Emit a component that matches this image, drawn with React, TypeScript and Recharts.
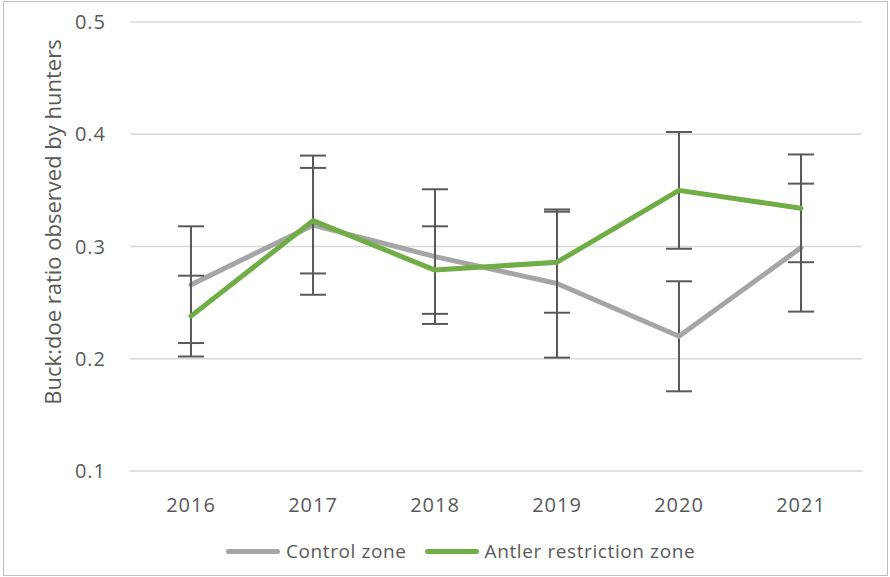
import React from 'react'
import { LineChart, Line, XAxis, YAxis, CartesianGrid, ErrorBar, Legend } from 'recharts'

const years = ['2016', '2017', '2018', '2019', '2020', '2021']
const control = [0.266, 0.319, 0.291, 0.267, 0.22, 0.299]
const controlErr = [0.052, 0.062, 0.06, 0.066, 0.049, 0.057]
const antler = [0.238, 0.323, 0.279, 0.286, 0.35, 0.334]
const antlerErr = [0.036, 0.047, 0.039, 0.045, 0.052, 0.048]
const yTicks = [0.1, 0.2, 0.3, 0.4, 0.5]

const data = years.map((year, i) => ({
  year,
  control: control[i],
  controlErr: controlErr[i],
  antler: antler[i],
  antlerErr: antlerErr[i],
}))

const FONT = '"Open Sans", sans-serif'
const TEXT = '#595959'

const legendItems = [
  { label: 'Control zone', color: '#A5A5A5' },
  { label: 'Antler restriction zone', color: '#70AD47' },
]

function LegendContent() {
  return (
    <div style={{ display: 'flex', alignItems: 'center', fontFamily: FONT, fontSize: 19, letterSpacing: 0.6, color: TEXT }}>
      {legendItems.map(item => (
        <div key={item.label} style={{ display: 'flex', alignItems: 'center', marginRight: 18 }}>
          <div style={{ width: 54, height: 5, borderRadius: 3, background: item.color, marginRight: 6 }} />
          <span>{item.label}</span>
        </div>
      ))}
    </div>
  )
}

export default function App() {
  return (
    <div style={{ position: 'absolute', left: 0, top: 0, width: 890, height: 577, background: '#fff' }}>
      <div style={{ position: 'absolute', left: 3, top: 1, width: 883, height: 573, border: '1px solid #BFBFBF' }} />
      <LineChart
        width={890}
        height={577}
        data={data}
        margin={{ top: 22, right: 28, bottom: 40, left: 70 }}
      >
        <CartesianGrid vertical={false} stroke="#D9D9D9" strokeWidth={1.5} />
        <XAxis
          dataKey="year"
          axisLine={false}
          tickLine={false}
          tickSize={0}
          tickMargin={27}
          height={40}
          padding={{ left: 61, right: 61 }}
          tick={{ fill: TEXT, fontSize: 20, fontFamily: FONT, letterSpacing: 1 }}
        />
        <YAxis
          domain={[0.1, 0.5]}
          ticks={yTicks}
          width={60}
          axisLine={false}
          tickLine={false}
          tickSize={0}
          tickMargin={24}
          tickFormatter={(v: number) => v.toFixed(1)}
          tick={{ fill: TEXT, fontSize: 20, fontFamily: FONT, letterSpacing: 1 }}
          label={{
            content: () => (
              <text
                x={52}
                y={222}
                transform="rotate(-90 52 222)"
                textAnchor="middle"
                dominantBaseline="central"
                fill={TEXT}
                fontSize={22}
                fontFamily={FONT}
              >
                Buck:doe ratio observed by hunters
              </text>
            ),
          }}
        />
        <Line
          dataKey="control"
          name="Control zone"
          stroke="#A5A5A5"
          strokeWidth={5}
          strokeLinecap="round"
          strokeLinejoin="round"
          dot={false}
          activeDot={false}
          isAnimationActive={false}
        >
          <ErrorBar dataKey="controlErr" width={13} stroke="#595959" strokeWidth={2} direction="y" isAnimationActive={false} />
        </Line>
        <Line
          dataKey="antler"
          name="Antler restriction zone"
          stroke="#70AD47"
          strokeWidth={5}
          strokeLinecap="round"
          strokeLinejoin="round"
          dot={false}
          activeDot={false}
          isAnimationActive={false}
        >
          <ErrorBar dataKey="antlerErr" width={13} stroke="#595959" strokeWidth={2} direction="y" isAnimationActive={false} />
        </Line>
        <Legend
          verticalAlign="bottom"
          content={() => <LegendContent />}
          wrapperStyle={{ position: 'absolute', left: 226, top: 538, width: 'auto', bottom: 'auto' }}
        />
      </LineChart>
    </div>
  )
}
